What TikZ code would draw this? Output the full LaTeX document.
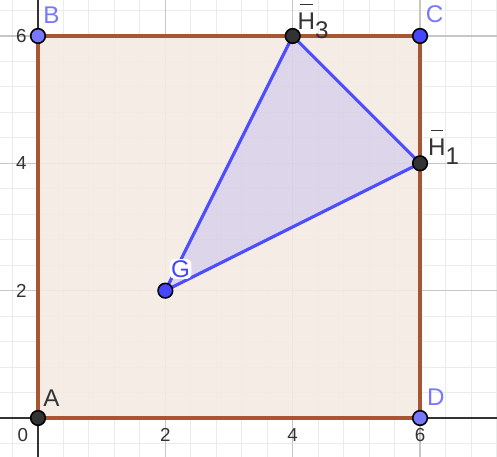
\documentclass[tikz,border=0pt]{standalone}
\usepackage{fontspec}
\setmainfont{Liberation Sans}
\definecolor{sqedge}{RGB}{168,86,50}
\definecolor{sqfill}{RGB}{245,234,228}
\definecolor{triedge}{RGB}{77,77,255}
\definecolor{lblue}{RGB}{120,120,255}
\definecolor{dblue}{RGB}{70,70,255}
\definecolor{dgray}{RGB}{51,51,51}
\newcommand\Hb{\leavevmode\rlap{\hspace{0.12em}\raisebox{1.02em}{\color{dgray}\rule{0.5em}{0.06em}}}H}
\tikzset{
  minorgrid/.style={draw=black!8,line width=0.4pt},
  majorgrid/.style={draw=black!22,line width=0.5pt},
  axisline/.style={draw=dgray,line width=0.6pt},
  tick/.style={font=\fontsize{8.4}{10}\selectfont,text=dgray,inner sep=0pt},
  lbl/.style={font=\fontsize{10.8}{12}\selectfont,inner sep=0pt},
  pt/.style={circle,draw=black,line width=0.7pt,minimum size=0.23cm,inner sep=0pt},
}
\begin{document}
\begin{tikzpicture}[x=1cm,y=1cm]
\useasboundingbox (-0.597,-0.597) rectangle (7.209,6.565);
\clip (-0.597,-0.597) rectangle (7.209,6.565);
\fill[white] (-0.597,-0.597) rectangle (7.209,6.565);
\draw[minorgrid,step=0.4] (-0.8,-0.8) grid (7.6,6.8);
\draw[majorgrid,step=2] (-0.8,-0.8) grid (7.6,6.8);
\coordinate (a) at (0,0);
\coordinate (b) at (0,6);
\coordinate (c) at (6,6);
\coordinate (d) at (6,0);
\coordinate (g) at (2,2);
\coordinate (h1) at (6,4);
\coordinate (h3) at (4,6);
\coordinate (xl) at (-0.7,0);
\coordinate (xr) at (7.3,0);
\coordinate (yb) at (0,-0.7);
\coordinate (yt) at (0,6.7);
\fill[sqfill,opacity=0.9] (a) -- (d) -- (c) -- (b) -- cycle;
\draw[axisline] (xl) -- (xr);
\draw[axisline] (yb) -- (yt);
\fill[triedge,opacity=0.14] (g) -- (h1) -- (h3) -- cycle;
\draw[sqedge,line width=1.6pt] (a) -- (d) -- (c) -- (b) -- cycle;
\draw[triedge,line width=1.4pt,line join=round] (g) -- (h1) -- (h3) -- cycle;
% ticks
\node[tick] (t0) at (-0.24,-0.27) {0};
\node[tick] (tx2) at (2,-0.27) {2};
\node[tick] (tx4) at (4,-0.27) {4};
\node[tick] (tx6) at (6,-0.27) {6};
\node[tick] (ty2) at (-0.26,2) {2};
\node[tick] (ty4) at (-0.26,4) {4};
\node[tick] (ty6) at (-0.26,6) {6};
% points
\node[pt,fill=dgray] (A) at (a) {};
\node[pt,fill=lblue] (B) at (b) {};
\node[pt,fill=dblue] (C) at (c) {};
\node[pt,fill=lblue] (D) at (d) {};
\node[pt,fill=dblue] (G) at (g) {};
\node[pt,fill=dgray] (H1) at (h1) {};
\node[pt,fill=dgray] (H3) at (h3) {};
% labels
\node[lbl,text=dgray] (lA) at (0.21,0.31) {A};
\node[lbl,text=lblue] (lB) at (0.21,6.33) {B};
\node[lbl,text=lblue] (lC) at (6.23,6.35) {C};
\node[lbl,text=lblue] (lD) at (6.25,0.33) {D};
\node[lbl,text=dblue,fill=white,inner sep=0.6pt,rounded corners=2pt] (lG) at (2.24,2.34) {G};
\node[lbl,text=dgray,anchor=base west] (lH3) at (4.07,6.10) {\Hb\raisebox{-0.35em}{3}};
\node[lbl,text=dgray,anchor=base west] (lH1) at (6.12,4.12) {\Hb\raisebox{-0.35em}{1}};
\end{tikzpicture}
\end{document}
